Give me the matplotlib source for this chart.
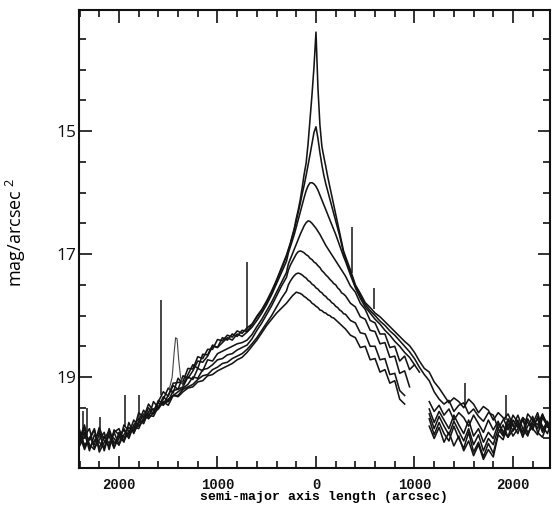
import numpy as np
import matplotlib
matplotlib.use("Agg")
import matplotlib.pyplot as plt
from matplotlib.ticker import FixedLocator, MultipleLocator, FuncFormatter

nan = np.nan

# sampling positions along the semi-major axis (arcsec); left side negative
x_left = np.arange(-2400, -299, 50)
x_core = np.arange(-280, 281, 20)
x_right = np.arange(300, 2401, 50)
x_grid = np.concatenate([x_left, x_core, x_right])

# surface-brightness profiles (mag/arcsec^2)
prof_1 = [20.00, 19.78, 20.15, 20.04, 19.88, 20.20, 19.92, 20.00, 20.11, 19.78,
          19.88, 19.87, 19.58, 19.66, 19.44, 19.55, 19.40, 19.24, 19.31, 19.10,
          19.09, 19.07, 18.86, 18.87, 18.67, 18.70, 18.55, 18.55, 18.39, 18.41,
          18.32, 18.35, 18.25, 18.29, 18.20, 18.14, 18.01, 17.90, 17.76, 17.60,
          17.42, 17.22, 17.02,
          16.92, 16.82, 16.70, 16.58, 16.42, 16.28, 16.12, 15.92, 15.70, 15.52,
          15.20, 14.80, 14.40, 13.95, 13.39, 14.30, 14.90, 15.25, 15.42, 15.58,
          15.75, 15.90, 16.05, 16.20, 16.35, 16.50, 16.65, 16.80, 16.95,
          17.04, 17.26, 17.50, 17.64, 17.79, 17.87, 17.96, 18.02, 18.10, 18.18,
          18.26, 18.34, 18.42, 18.49, 18.60, 18.74, 18.86, 18.92, 19.08, 19.18,
          19.30, 19.42, 19.34, 19.40, 19.50, 19.36, 19.44, 19.58, 19.48, 19.54,
          19.70, 19.58, 19.66, 19.86, 19.62, 19.74, 19.90, 19.60, 19.70, 19.84,
          19.62, 19.76, 19.88]
prof_2 = [20.12, 19.96, 19.84, 20.16, 20.02, 19.90, 20.18, 19.86, 19.94, 20.06,
          19.74, 19.92, 19.72, 19.54, 19.66, 19.40, 19.50, 19.36, 19.18, 19.26,
          19.02, 19.12, 18.96, 18.80, 18.86, 18.63, 18.64, 18.48, 18.52, 18.36,
          18.40, 18.30, 18.34, 18.24, 18.26, 18.15, 18.03, 17.92, 17.78, 17.62,
          17.44, 17.24, 17.04,
          16.94, 16.84, 16.72, 16.60, 16.46, 16.32, 16.18, 16.02, 15.88, 15.72,
          15.55, 15.38, 15.20, 15.02, 14.93, 15.12, 15.35, 15.55, 15.72, 15.86,
          15.98, 16.10, 16.22, 16.34, 16.46, 16.58, 16.70, 16.84, 16.98,
          17.07, 17.30, 17.52, 17.68, 17.82, 17.92, 18.00, 18.09, 18.16, 18.25,
          18.32, 18.41, 18.50, 18.59, 18.70, 18.84, 18.96, 19.06, 19.24, 19.36,
          19.44, 19.38, 19.56, 19.46, 19.42, 19.60, 19.52, 19.64, 19.72, 19.58,
          19.62, 19.84, 19.70, 19.60, 19.78, 19.92, 19.66, 19.74, 19.86, 19.64,
          19.80, 19.92, 19.68]
prof_3 = [19.86, 20.14, 20.00, 19.84, 20.22, 20.06, 19.96, 20.16, 19.90, 19.98,
          19.92, 19.70, 19.80, 19.70, 19.50, 19.60, 19.38, 19.44, 19.30, 19.14,
          19.20, 18.98, 19.02, 18.90, 18.74, 18.76, 18.66, 18.50, 18.52, 18.44,
          18.36, 18.40, 18.30, 18.34, 18.27, 18.19, 18.08, 17.96, 17.82, 17.66,
          17.48, 17.30, 17.12,
          16.98, 16.88, 16.78, 16.68, 16.56, 16.44, 16.32, 16.20, 16.08, 15.97,
          15.89, 15.84, 15.84, 15.86, 15.90, 15.96, 16.04, 16.12, 16.20, 16.28,
          16.36, 16.44, 16.52, 16.60, 16.68, 16.77, 16.86, 16.95, 17.04,
          17.12, 17.34, 17.55, 17.72, 17.86, 17.96, 18.06, 18.14, 18.24, 18.32,
          18.42, 18.50, 18.60, 18.68, 18.80, 18.92, nan, 19.40, 19.56, 19.46,
          19.62, 19.52, 19.70, 19.58, 19.66, 19.80, 19.62, 19.76, 19.90, 19.70,
          19.86, 19.72, 19.94, 19.68, 19.80, 19.62, 19.84, 19.96, 19.70, 19.78,
          19.60, 19.82, 19.74]
prof_4 = [20.08, 19.90, 20.20, 19.94, 20.06, 20.16, 19.84, 20.08, 19.96, 19.86,
          20.00, 19.78, 19.68, 19.76, 19.56, 19.52, 19.50, 19.32, 19.40, 19.22,
          19.20, 19.16, 19.00, 19.04, 18.86, 18.90, 18.72, 18.74, 18.62, 18.58,
          18.54, 18.50, 18.46, 18.44, 18.40, 18.31, 18.18, 18.06, 17.92, 17.78,
          17.62, 17.46, 17.30,
          17.16, 17.08, 17.00, 16.92, 16.84, 16.76, 16.68, 16.61, 16.54, 16.49,
          16.46, 16.47, 16.50, 16.54, 16.58, 16.63, 16.68, 16.74, 16.80, 16.86,
          16.91, 16.96, 17.01, 17.06, 17.11, 17.16, 17.21, 17.26, 17.31,
          17.36, 17.52, 17.62, 17.80, 17.90, 18.08, 18.12, 18.30, 18.30, 18.52,
          18.50, 18.74, 18.66, 18.88, 18.80, nan, nan, 19.52, 19.74, 19.56,
          19.70, 19.84, 19.62, 19.78, 19.92, 19.70, 19.96, 19.84, 20.06, 19.90,
          20.00, 19.76, 19.88, 19.98, 19.70, 19.82, 19.66, 19.92, 19.76, 19.58,
          19.86, 19.72, 19.94]
prof_5 = [19.94, 20.18, 19.98, 20.10, 19.82, 20.04, 20.12, 19.90, 20.10, 19.94,
          19.82, 19.90, 19.76, 19.60, 19.68, 19.58, 19.42, 19.46, 19.36, 19.30,
          19.24, 19.18, 19.12, 19.00, 19.02, 18.88, 18.86, 18.80, 18.72, 18.70,
          18.64, 18.62, 18.56, 18.52, 18.48, 18.38, 18.24, 18.12, 17.98, 17.84,
          17.68, 17.52, 17.38,
          17.26, 17.18, 17.12, 17.06, 17.00, 16.96, 16.95, 16.96, 16.98, 17.01,
          17.03, 17.07, 17.09, 17.13, 17.15, 17.19, 17.22, 17.27, 17.30, 17.34,
          17.37, 17.41, 17.44, 17.48, 17.50, 17.55, 17.58, 17.63, 17.65,
          17.68, 17.80, 17.86, 18.02, 18.06, 18.24, 18.26, 18.46, 18.44, 18.68,
          18.66, 18.94, 18.90, 19.16, nan, nan, nan, 19.60, 19.84, 19.64,
          19.80, 19.94, 19.72, 19.88, 20.04, 19.84, 20.10, 19.94, 20.20, 20.00,
          20.10, 19.84, 19.96, 19.70, 19.88, 19.76, 19.98, 19.68, 19.84, 19.94,
          19.66, 19.80, 19.90]
prof_6 = [20.04, 19.84, 20.10, 20.18, 19.92, 20.00, 19.88, 20.14, 20.00, 19.84,
          19.96, 19.80, 19.84, 19.66, 19.62, 19.64, 19.48, 19.42, 19.40, 19.30,
          19.30, 19.20, 19.16, 19.12, 19.04, 18.98, 18.96, 18.88, 18.84, 18.78,
          18.76, 18.70, 18.66, 18.62, 18.55, 18.46, 18.36, 18.24, 18.12, 18.00,
          17.86, 17.72, 17.60,
          17.50, 17.44, 17.39, 17.35, 17.32, 17.31, 17.32, 17.34, 17.37, 17.39,
          17.43, 17.45, 17.49, 17.51, 17.55, 17.57, 17.61, 17.63, 17.67, 17.69,
          17.73, 17.75, 17.79, 17.81, 17.85, 17.87, 17.91, 17.93, 17.97,
          17.98, 18.08, 18.12, 18.28, 18.30, 18.50, 18.50, 18.72, 18.70, 18.96,
          18.94, 19.22, 19.30, nan, nan, nan, nan, 19.68, 19.94, 19.74,
          19.92, 20.04, 19.80, 20.00, 20.16, 19.90, 20.22, 20.06, 20.30, 20.08,
          20.24, 19.92, 19.78, 19.98, 19.86, 19.70, 19.96, 19.80, 19.64, 19.90,
          19.98, 19.74, 19.86]
prof_7 = [19.92, 20.10, 20.02, 19.86, 20.16, 19.96, 20.08, 19.90, 19.84, 20.04,
          19.88, 19.86, 19.74, 19.72, 19.60, 19.58, 19.52, 19.40, 19.46, 19.30,
          19.32, 19.24, 19.18, 19.16, 19.08, 19.06, 18.98, 18.96, 18.90, 18.86,
          18.82, 18.78, 18.72, 18.68, 18.60, 18.50, 18.40, 18.28, 18.16, 18.06,
          17.96, 17.88, 17.80,
          17.76, 17.72, 17.68, 17.65, 17.62, 17.63, 17.64, 17.66, 17.69, 17.71,
          17.74, 17.76, 17.80, 17.82, 17.85, 17.87, 17.91, 17.92, 17.95, 17.96,
          17.99, 18.00, 18.03, 18.04, 18.07, 18.10, 18.13, 18.16, 18.19,
          18.22, 18.32, 18.36, 18.52, 18.50, 18.72, 18.70, 18.92, 18.88, 19.10,
          19.06, 19.36, 19.44, nan, nan, nan, nan, 19.80, 20.00, 19.82,
          20.06, 19.90, 20.12, 19.96, 20.20, 20.04, 20.28, 20.10, 20.34, 20.18,
          20.30, 19.94, 20.02, 19.76, 19.96, 19.84, 19.70, 19.92, 19.80, 19.68,
          19.90, 19.74, 19.96]
profiles = [prof_1, prof_2, prof_3, prof_4, prof_5, prof_6, prof_7]

# foreground stars: position, local profile level, spike tip
star_x = [-2370, -2320, -2190, -1940, -1795, -1575, -700, 365, 590, 1510, 1930]
star_base = [19.95, 19.95, 20.00, 19.80, 19.70, 19.30, 18.25, 17.30, 17.90, 19.45, 19.70]
star_tip = [19.55, 19.50, 19.65, 19.30, 19.30, 17.75, 17.13, 16.56, 17.55, 19.10, 19.30]

# small companion bump on the left
bump_x = [-1490, -1460, -1440, -1425, -1410, -1395, -1375, -1350]
bump_y = [19.20, 19.00, 18.60, 18.36, 18.38, 18.70, 19.00, 19.15]

y_major = [15, 17, 19]

for p in profiles:
    if len(p) != len(x_grid):
        print("length mismatch", len(p), len(x_grid))

fig = plt.figure(figsize=(5.6, 5.13), dpi=100)
ax = fig.add_axes([79 / 560, 1 - 468 / 513, (550 - 79) / 560, (468 - 10) / 513])

line_col = "#141414"
for p in profiles:
    ax.plot(x_grid, p, color=line_col, lw=1.15)
ax.vlines(star_x, star_base, star_tip, color=line_col, lw=1.1)
ax.plot(bump_x, bump_y, color="#444444", lw=0.8)

ax.set_xlim(-2406, 2376)
ax.set_ylim(20.48, 13.03)

ax.xaxis.set_major_locator(MultipleLocator(1000))
ax.xaxis.set_minor_locator(MultipleLocator(200))
ax.xaxis.set_major_formatter(FuncFormatter(lambda v, pos: f"{abs(int(round(v)))}"))
ax.yaxis.set_major_locator(FixedLocator(y_major))
ax.yaxis.set_minor_locator(MultipleLocator(0.5))

ax.tick_params(which="both", direction="in", top=True, right=True, width=1.2, colors="#111111")
ax.tick_params(which="major", length=9)
ax.tick_params(which="minor", length=5)
ax.tick_params(axis="x", which="major", pad=7)
ax.tick_params(axis="y", which="major", pad=2)

for lab in ax.get_xticklabels():
    lab.set_fontfamily("Liberation Mono")
    lab.set_fontweight("bold")
    lab.set_fontsize(10)
for lab in ax.get_yticklabels():
    lab.set_fontfamily("Open Sans")
    lab.set_fontsize(12.5)

for s in ax.spines.values():
    s.set_linewidth(1.5)
    s.set_color("#111111")

fig.text(324 / 560, 1 - 497 / 513, "semi-major axis length (arcsec)",
         family="Liberation Mono", weight="bold", fontsize=9.5,
         ha="center", va="center")
fig.text(16 / 560, 1 - 232 / 513, r"mag/arcsec$\mathregular{^{\ 2}}$",
         family="Open Sans", fontsize=13, rotation=90, ha="center", va="center")

fig.savefig("out.png", dpi=100)
